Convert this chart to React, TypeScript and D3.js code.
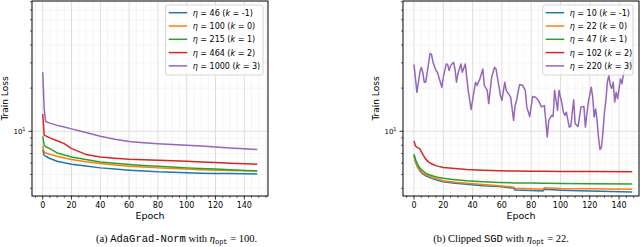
import React from 'react';
import * as d3 from 'd3';

// 左图：AdaGrad-Norm，各学习率的训练损失（按截图读数）
const adaEpochs = [0, 1, 2, 5, 10, 15, 20, 30, 40, 50, 60, 70, 80, 90, 100, 110, 120, 130, 140, 149];
const adaEta = ['46', '100', '215', '464', '1000'];
const adaK = ['-1', '0', '1', '2', '3'];
const adaLoss46 = [7.46, 6.81, 6.7, 6.46, 6.19, 6.03, 5.9, 5.72, 5.56, 5.45, 5.36, 5.29, 5.22, 5.18, 5.14, 5.11, 5.09, 5.07, 5.05, 5.03];
const adaLoss100 = [7.9, 7.18, 7.05, 6.92, 6.7, 6.52, 6.36, 6.14, 5.96, 5.82, 5.71, 5.63, 5.56, 5.5, 5.45, 5.4, 5.36, 5.33, 5.3, 5.28];
const adaLoss215 = [9.23, 8.0, 7.8, 7.58, 7.07, 6.83, 6.63, 6.35, 6.12, 5.98, 5.87, 5.78, 5.71, 5.63, 5.56, 5.5, 5.45, 5.39, 5.34, 5.3];
const adaLoss464 = [13.2, 9.4, 9.3, 9.0, 8.6, 8.2, 7.58, 6.9, 6.63, 6.5, 6.39, 6.33, 6.29, 6.24, 6.19, 6.12, 6.06, 6.0, 5.95, 5.9];
const adaLoss1000 = [25.8, 14.5, 11.7, 11.4, 11.0, 10.7, 10.4, 9.8, 9.23, 8.8, 8.48, 8.33, 8.2, 8.1, 8.0, 7.9, 7.78, 7.65, 7.55, 7.46];

// 右图：Clipped SGD
const sgdEpochs = [0, 1, 2, 4, 6, 8, 10, 13, 16, 20, 28, 36, 47, 58, 68, 69, 80, 88, 89, 100, 120, 149];
const sgdEta = ['10', '22', '47', '102', '220'];
const sgdK = ['-1', '0', '1', '2', '3'];
const sgdLoss10 = [6.81, 6.15, 5.75, 5.3, 5.05, 4.9, 4.8, 4.66, 4.55, 4.45, 4.35, 4.28, 4.18, 4.12, 4.02, 3.9, 3.86, 3.83, 3.94, 3.89, 3.83, 3.78];
const sgdLoss22 = [6.81, 6.2, 5.8, 5.36, 5.12, 4.97, 4.88, 4.75, 4.65, 4.52, 4.42, 4.35, 4.25, 4.17, 4.08, 4.01, 3.97, 3.94, 4.04, 4.0, 3.97, 3.94];
const sgdLoss47 = [6.92, 6.4, 6.0, 5.55, 5.3, 5.1, 5.0, 4.88, 4.78, 4.7, 4.6, 4.52, 4.45, 4.4, 4.37, 4.37, 4.36, 4.35, 4.35, 4.33, 4.31, 4.29];
const sgdLoss102 = [8.56, 7.9, 7.75, 7.55, 6.9, 6.4, 6.1, 5.87, 5.72, 5.6, 5.5, 5.42, 5.35, 5.3, 5.28, 5.28, 5.27, 5.26, 5.26, 5.25, 5.24, 5.22];
// η=220 抖动很大，单独逐点读
const sgd220Epochs = [0, 2, 4, 5, 6, 7, 8, 11, 12, 13, 15, 16, 19, 20, 22, 23, 24, 25, 27, 28, 29, 30, 31, 32, 33, 35, 37, 39, 42, 43, 45, 47, 48, 50, 51, 53, 55, 56, 59, 60, 62, 63, 66, 68, 69, 70, 72, 74, 76, 77, 79, 81, 83, 85, 87, 89, 91, 92, 94, 95, 96, 98, 99, 101, 102, 103, 104, 106, 107, 109, 110, 112, 114, 116, 117, 119, 121, 122, 123, 124, 125, 126, 127, 128, 129, 130, 131, 132, 133, 134, 135, 136, 137, 138, 139, 141, 142, 143, 145, 147, 149];
const sgdLoss220 = [29.2, 18.7, 25.8, 28.0, 25.8, 22.0, 22.0, 35.0, 34.3, 30.3, 26.5, 25.8, 20.3, 23.8, 29.5, 29.2, 26.5, 28.7, 30.3, 27.2, 22.0, 25.2, 27.2, 29.5, 25.8, 29.5, 19.3, 14.2, 22.0, 20.9, 23.2, 27.2, 20.9, 19.3, 15.6, 23.8, 28.0, 27.2, 17.8, 16.4, 22.0, 19.3, 17.3, 11.9, 15.1, 16.4, 21.1, 21.0, 19.3, 14.8, 12.7, 17.5, 17.3, 16.4, 14.8, 15.1, 9.13, 11.9, 12.9, 12.7, 19.3, 14.0, 19.3, 15.6, 13.6, 12.9, 13.6, 10.7, 10.8, 16.6, 11.3, 10.8, 14.8, 14.9, 10.7, 16.0, 20.3, 17.3, 12.6, 14.3, 11.9, 9.0, 7.46, 7.8, 9.9, 13.5, 16.4, 22.0, 24.5, 21.0, 19.9, 22.0, 16.0, 18.7, 16.9, 23.2, 21.5, 25.2, 28.7, 29.0, 32.0];

const colors = ['#1f77b4', '#ff7f0e', '#2ca02c', '#d62728', '#9467bd'];
const xMajor = [0, 20, 40, 60, 80, 100, 120, 140];
const yMinor = [4, 5, 6, 7, 8, 9, 20, 30, 40, 50, 60, 70, 80];

const TOP = 1, BOTTOM = 196;
const SANS = 'DejaVu Sans, sans-serif';
const SERIF = 'Liberation Serif, serif';
const MONO = 'Liberation Mono, DejaVu Sans Mono, monospace';

type Series = { xs: number[]; ys: number[] };

interface PanelProps {
  x0: number; x1: number;
  domain: [number, number];
  series: Series[];
  etas: string[]; ks: string[];
  legendX: number; legendW: number;
  ylabelX: number;
  tag: string; method: React.ReactNode; opt: string;
  captionX: number;
  id: string;
}

const Panel: React.FC<PanelProps> = (p) => {
  const x = d3.scaleLinear().domain(p.domain).range([p.x0, p.x1]);
  const y = d3.scaleLog().domain([3.54, 81]).range([BOTTOM, TOP]);
  const line = d3.line<[number, number]>().x(d => x(d[0])).y(d => y(d[1]));
  const xMinor = d3.range(-5, 160, 5).filter(v => v % 20 !== 0 && x(v) >= p.x0 && x(v) <= p.x1);
  const rowY = (i: number) => 12.7 + i * 13.3;

  return (
    <g>
      <defs>
        <clipPath id={`clip-${p.id}`}>
          <rect x={p.x0} y={TOP} width={p.x1 - p.x0} height={BOTTOM - TOP} />
        </clipPath>
      </defs>
      {/* 网格：次网格先画，主网格后画 */}
      {xMinor.map(v => (
        <line key={'xm' + v} x1={x(v)} x2={x(v)} y1={TOP} y2={BOTTOM} stroke="#efefef" strokeWidth={0.6} />
      ))}
      {yMinor.map(v => (
        <line key={'ym' + v} x1={p.x0} x2={p.x1} y1={y(v)} y2={y(v)} stroke="#efefef" strokeWidth={0.6} />
      ))}
      {xMajor.map(v => (
        <line key={'xg' + v} x1={x(v)} x2={x(v)} y1={TOP} y2={BOTTOM} stroke="#dedede" strokeWidth={1} />
      ))}
      <line x1={p.x0} x2={p.x1} y1={y(10)} y2={y(10)} stroke="#dedede" strokeWidth={1} />

      <g clipPath={`url(#clip-${p.id})`}>
        {p.series.map((s, i) => (
          <path key={i} d={line(s.xs.map((e, j) => [e, s.ys[j]] as [number, number])) || ''}
            fill="none" stroke={colors[i]} strokeWidth={1.5} strokeLinejoin="round" />
        ))}
      </g>

      {/* 坐标框 */}
      <rect x={p.x0} y={TOP} width={p.x1 - p.x0} height={BOTTOM - TOP} fill="none" stroke="#000" strokeWidth={1} />

      {/* x 轴刻度 */}
      {xMajor.map(v => (
        <g key={'xt' + v}>
          <line x1={x(v)} x2={x(v)} y1={BOTTOM} y2={BOTTOM + 3.5} stroke="#000" strokeWidth={0.8} />
          <text x={x(v)} y={207.5} fontSize={8} fontFamily={SANS} textAnchor="middle">{v}</text>
        </g>
      ))}
      {xMinor.map(v => (
        <line key={'xmt' + v} x1={x(v)} x2={x(v)} y1={BOTTOM} y2={BOTTOM + 2} stroke="#000" strokeWidth={0.6} />
      ))}
      <text x={(p.x0 + p.x1) / 2} y={219} fontSize={9.5} fontFamily={SANS} textAnchor="middle">Epoch</text>

      {/* y 轴刻度（对数） */}
      <line x1={p.x0 - 3.5} x2={p.x0} y1={y(10)} y2={y(10)} stroke="#000" strokeWidth={0.8} />
      {yMinor.map(v => (
        <line key={'ymt' + v} x1={p.x0 - 2} x2={p.x0} y1={y(v)} y2={y(v)} stroke="#000" strokeWidth={0.6} />
      ))}
      <text x={p.x0 - 9.5} y={y(10) + 2.5} fontSize={7} fontFamily={SANS} textAnchor="end">10</text>
      <text x={p.x0 - 6.5} y={y(10) - 0.5} fontSize={5} fontFamily={SANS} textAnchor="end">1</text>
      <text transform={`translate(${p.ylabelX},${(TOP + BOTTOM) / 2}) rotate(-90)`} fontSize={9}
        fontFamily={SANS} textAnchor="middle">Train Loss</text>

      {/* 图例 */}
      <rect x={p.legendX} y={5} width={p.legendW} height={70} rx={2} fill="#fff" fillOpacity={0.8}
        stroke="#cccccc" strokeWidth={0.8} />
      {p.etas.map((eta, i) => (
        <g key={'lg' + i}>
          <line x1={p.legendX + 3} x2={p.legendX + 21.5} y1={rowY(i)} y2={rowY(i)} stroke={colors[i]} strokeWidth={1.5} />
          <text x={p.legendX + 27} y={rowY(i) + 3} fontSize={8} fontFamily={SANS}>
            <tspan fontStyle="italic">η</tspan>{` = ${eta} (`}<tspan fontStyle="italic">k</tspan>{` = ${p.ks[i]})`}
          </text>
        </g>
      ))}

      {/* 子图标题 */}
      <text x={p.captionX} y={242} fontSize={10.5} fontFamily={SERIF} textAnchor="middle">
        {`(${p.tag}) `}{p.method}{' with '}<tspan fontStyle="italic">η</tspan>
        <tspan fontFamily={MONO} fontSize={7} dy={2}>opt</tspan>
        <tspan dy={-2}>{` = ${p.opt}.`}</tspan>
      </text>
    </g>
  );
};

export default function App() {
  const ada: Series[] = [adaLoss46, adaLoss100, adaLoss215, adaLoss464, adaLoss1000].map(ys => ({ xs: adaEpochs, ys }));
  const sgd: Series[] = [
    ...[sgdLoss10, sgdLoss22, sgdLoss47, sgdLoss102].map(ys => ({ xs: sgdEpochs, ys })),
    { xs: sgd220Epochs, ys: sgdLoss220 },
  ];
  return (
    <svg width={640} height={247} style={{ position: 'absolute', left: 0, top: 0, background: '#fff' }}>
      <rect width={640} height={247} fill="#fff" />
      <Panel id="a" x0={32} x1={268} domain={[-7.45, 156.45]} series={ada} etas={adaEta} ks={adaK}
        legendX={165.7} legendW={97.3} ylabelX={8} tag="a"
        method={<tspan fontFamily={MONO}>AdaGrad-Norm</tspan>} opt="100" captionX={176.5} />
      <Panel id="b" x0={403} x1={639} domain={[-7.5, 153.6]} series={sgd} etas={sgdEta} ks={sgdK}
        legendX={542.7} legendW={90.3} ylabelX={378.5} tag="b"
        method={<>{'Clipped '}<tspan fontFamily={MONO}>SGD</tspan></>} opt="22" captionX={501} />
    </svg>
  );
}
